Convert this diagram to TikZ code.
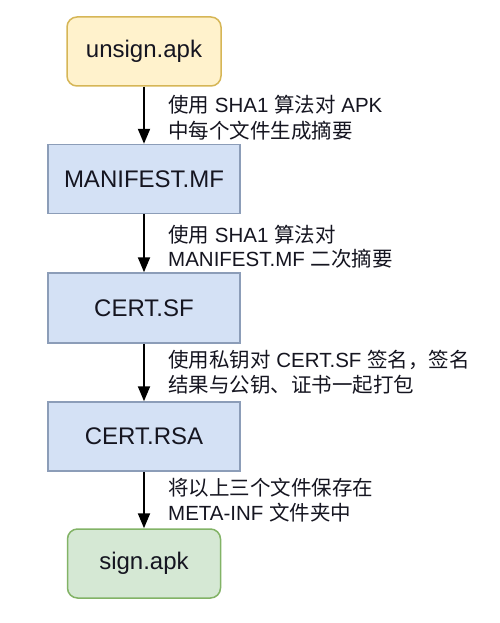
\documentclass[tikz,border=0pt]{standalone}
\usepackage{fontspec}
\setmainfont{Liberation Sans}
\newfontfamily\cjk{Noto Sans CJK SC}
\usetikzlibrary{arrows.meta}
\definecolor{ylwfill}{HTML}{FFF2CC}
\definecolor{ylwdraw}{HTML}{D6B656}
\definecolor{bluefill}{HTML}{D4E1F5}
\definecolor{bluedraw}{HTML}{8C9DB8}
\definecolor{grnfill}{HTML}{D5E8D4}
\definecolor{grndraw}{HTML}{82B366}
\definecolor{txt}{HTML}{151520}
\begin{document}
\begin{tikzpicture}[x=1pt,y=-1pt,
  box/.style={draw=bluedraw, fill=bluefill, line width=1.5pt, minimum width=192pt, minimum height=69pt, inner sep=0pt, text=txt, font=\fontsize{24}{28}\selectfont},
  startbox/.style={box, draw=ylwdraw, fill=ylwfill, rounded corners=10pt, minimum width=154pt},
  endbox/.style={box, draw=grndraw, fill=grnfill, rounded corners=10pt, minimum width=153pt},
  lab/.style={anchor=base west, inner sep=0pt, text=txt, font=\fontsize{20.5}{25}\selectfont},
  arr/.style={draw=black, line width=2pt, -{Triangle[length=15pt,width=12pt]}}
]
\useasboundingbox (0,0) rectangle (500,623);
\fill[white] (0,0) rectangle (500,623);

\node[startbox] (unsign) at (144,51.5) {unsign.apk};
\node[box] (manifest) at (144,179) {MANIFEST.MF};
\node[box, minimum height=70pt] (certsf) at (144,308) {CERT.SF};
\node[box] (certrsa) at (144,436.5) {CERT.RSA};
\node[endbox] (sign) at (144,563.5) {sign.apk};

\draw[arr] (unsign) -- (manifest);
\draw[arr] (manifest) -- (certsf);
\draw[arr] (certsf) -- (certrsa);
\draw[arr] (certrsa) -- (sign);

\node[lab] (l1a) at (168,113) {{\cjk 使用} SHA1 {\cjk 算法对} APK};
\node[lab] (l1b) at (168,138) {\cjk 中每个文件生成摘要};
\node[lab] (l2a) at (168,242) {{\cjk 使用} SHA1 {\cjk 算法对}};
\node[lab] (l2b) at (168,266) {MANIFEST.MF {\cjk 二次摘要}};
\node[lab] (l3a) at (168,367) {{\cjk 使用私钥对} CERT.SF {\cjk 签名，签名}};
\node[lab] (l3b) at (168,392) {\cjk 结果与公钥、证书一起打包};
\node[lab] (l4a) at (168,495) {\cjk 将以上三个文件保存在};
\node[lab] (l4b) at (168,520) {META-INF {\cjk 文件夹中}};
\end{tikzpicture}
\end{document}
